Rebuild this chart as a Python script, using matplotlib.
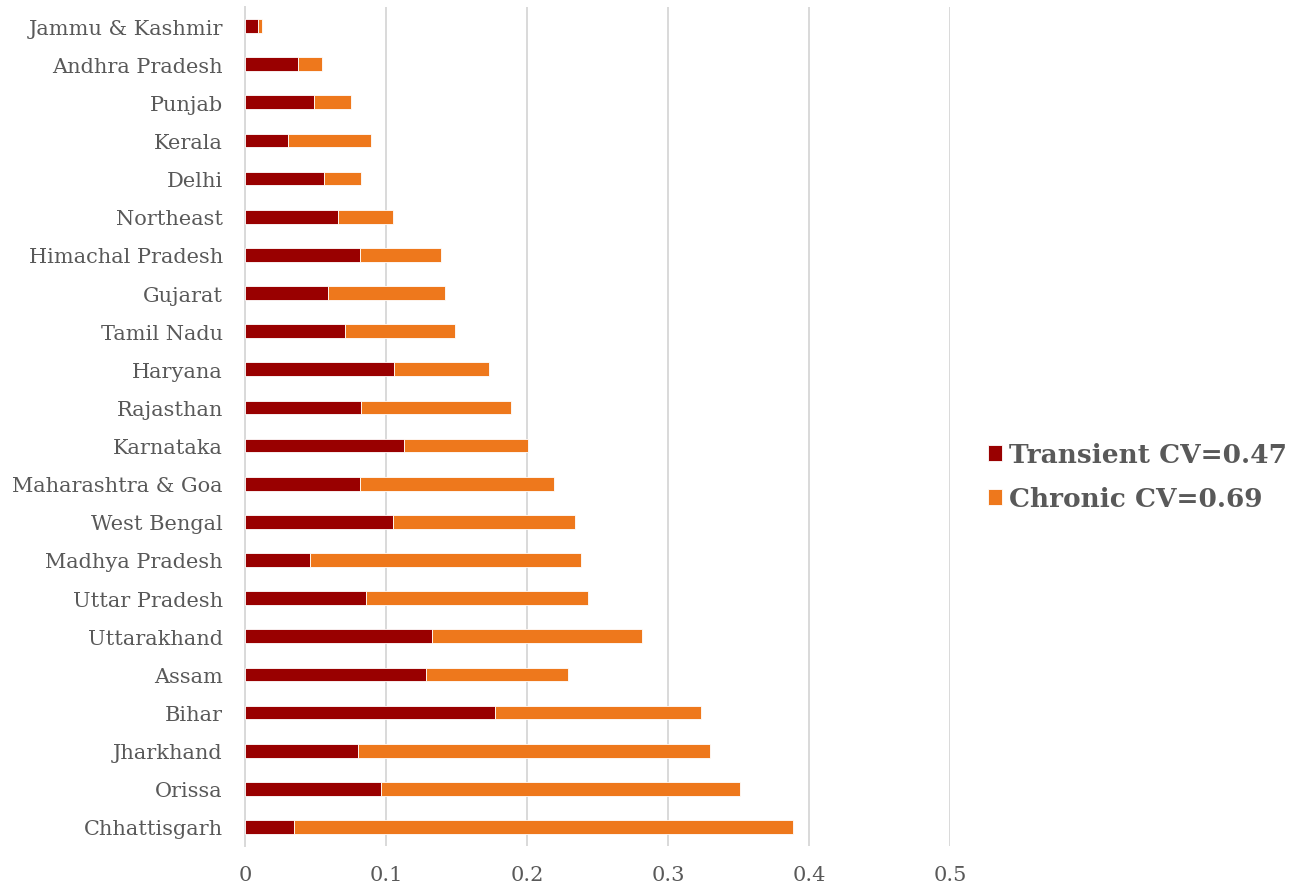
import matplotlib
matplotlib.use("Agg")
import matplotlib.pyplot as plt
import numpy as np

# States, listed bottom-to-top as they appear on the chart
states = [
    "Chhattisgarh", "Orissa", "Jharkhand", "Bihar", "Assam", "Uttarakhand",
    "Uttar Pradesh", "Madhya Pradesh", "West Bengal", "Maharashtra & Goa",
    "Karnataka", "Rajasthan", "Haryana", "Tamil Nadu", "Gujarat",
    "Himachal Pradesh", "Northeast", "Delhi", "Kerala", "Punjab",
    "Andhra Pradesh", "Jammu & Kashmir",
]
transient = [
    0.0350, 0.0965, 0.0801, 0.1774, 0.1281, 0.1329,
    0.0858, 0.0461, 0.1052, 0.0818,
    0.1128, 0.0820, 0.1057, 0.0707, 0.0589,
    0.0816, 0.0660, 0.0563, 0.0305, 0.0489,
    0.0374, 0.0090,
]
chronic = [
    0.3535, 0.2544, 0.2495, 0.1458, 0.1010, 0.1487,
    0.1575, 0.1920, 0.1286, 0.1373,
    0.0879, 0.1065, 0.0671, 0.0785, 0.0827,
    0.0572, 0.0390, 0.0260, 0.0586, 0.0263,
    0.0170, 0.0028,
]
x_ticks = [0, 0.1, 0.2, 0.3, 0.4, 0.5]
x_tick_labels = ["0", "0.1", "0.2", "0.3", "0.4", "0.5"]
series_names = ["Transient CV=0.47", "Chronic CV=0.69"]

text_color = "#595959"
grid_color = "#D9D9D9"
c_transient = "#990000"
c_chronic = "#EE781C"

plt.rcParams["font.family"] = ["DejaVu Serif"]

fig = plt.figure(figsize=(13.05, 8.87), dpi=100)
ax = fig.add_axes([245 / 1305, 1 - 847 / 887, 705 / 1305, 839 / 887])

y = np.arange(len(states))
bar_h = 0.36
b1 = ax.barh(y, transient, height=bar_h, color=c_transient,
             edgecolor="white", linewidth=0.6, label=series_names[0], zorder=3)
b2 = ax.barh(y, chronic, left=transient, height=bar_h, color=c_chronic,
             edgecolor="white", linewidth=0.6, label=series_names[1], zorder=3)

ax.set_xlim(0, 0.5)
ax.set_ylim(-0.5, len(states) - 0.5)
ax.set_yticks(y)
ax.set_yticklabels(states)
ax.set_xticks(x_ticks)
ax.set_xticklabels(x_tick_labels)
ax.tick_params(axis="y", length=0, pad=16, labelsize=15.0, labelcolor=text_color)
ax.tick_params(axis="x", length=0, pad=14, labelsize=15.0, labelcolor=text_color)

ax.grid(axis="x", color=grid_color, linewidth=1.4, zorder=0)
ax.set_axisbelow(True)
for side in ["top", "right", "bottom"]:
    ax.spines[side].set_visible(False)
ax.spines["left"].set_color(grid_color)
ax.spines["left"].set_linewidth(1.4)

leg = fig.legend(handles=[b1, b2], loc="center left",
                 bbox_to_anchor=(964 / 1305, 1 - 478 / 887),
                 frameon=False, handlelength=0.55, handleheight=0.55,
                 handletextpad=0.25, labelspacing=0.72,
                 prop={"family": "DejaVu Serif", "weight": "bold", "size": 19})
for t in leg.get_texts():
    t.set_color(text_color)

fig.savefig("out.png", dpi=100)
